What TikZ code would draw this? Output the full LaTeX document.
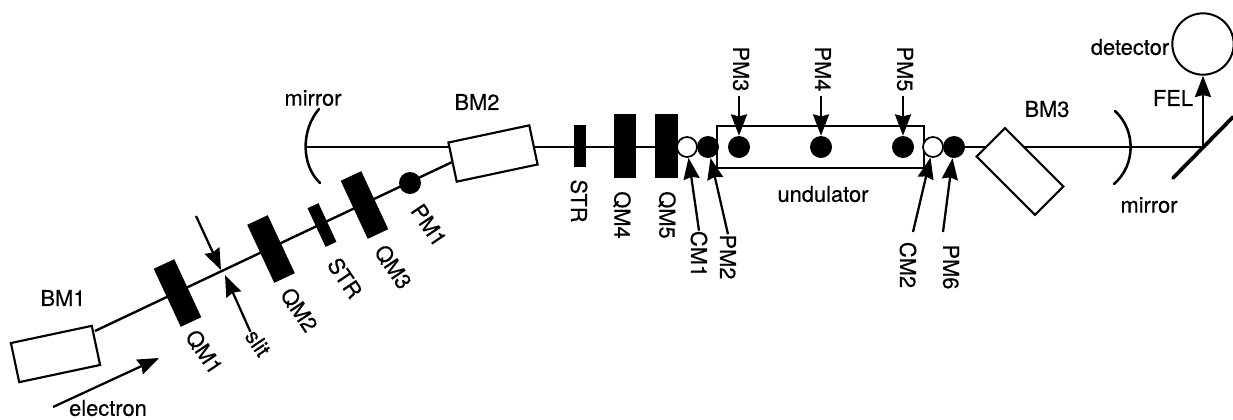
\documentclass[tikz,border=0pt]{standalone}
\usepackage{fontspec}
\setmainfont{TeX Gyre Heros}[FakeBold=0.4]
\usetikzlibrary{arrows.meta, backgrounds}

\begin{document}
\begin{tikzpicture}[
  x=0.75pt, y=-0.75pt,
  bendmag/.style={draw, fill=white, line width=1.6pt, minimum width=62pt, minimum height=30pt, inner sep=0pt},
  quad/.style={fill=black, minimum width=17pt, minimum height=48pt, inner sep=0pt},
  steer/.style={fill=black, minimum width=9pt, minimum height=32pt, inner sep=0pt},
  pmon/.style={circle, fill=black, minimum size=16.5pt, inner sep=0pt},
  cmon/.style={circle, draw, fill=white, line width=1.3pt, minimum size=15pt, inner sep=0pt},
  txt/.style={font=\fontsize{16.4}{18}\selectfont, inner sep=0pt},
  slant/.style={txt, rotate=-56},
  down/.style={txt, rotate=-90},
  beam/.style={line width=1.8pt},
  arr/.style={-{Stealth[length=16pt, width=12pt, inset=1.5pt]}, line width=1.7pt},
  mirrorline/.style={line width=1.9pt, line cap=round},
]
\useasboundingbox (0,0) rectangle (1233,419);

% first arc
\node[bendmag, rotate=12] (bm1) at (55.5,354) {};
\node[bendmag, rotate=12] (bm2) at (493,153.5) {};
\node[quad, rotate=25] (qm1) at (177.5,293) {};
\node[quad, rotate=25] (qm2) at (271,249) {};
\node[steer, rotate=25] (str1) at (322,225) {};
\node[quad, rotate=25] (qm3) at (364.5,205) {};
\node[pmon] (pm1) at (410,183) {};
\coordinate (beamstart) at (95,331);

% straight section
\node[steer] (str2) at (580,146) {};
\node[quad] (qm4) at (625,146) {};
\node[quad] (qm5) at (666.5,146) {};
\node[cmon] (cm1) at (687,147) {};
\node[pmon] (pm2) at (708,147) {};
\node[draw, line width=1.6pt, minimum width=155pt, minimum height=32pt, inner sep=0pt] (und) at (820.5,147) {};
\node[txt] (lund) at (823,194) {undulator};
\node[pmon] (pm3) at (739,147) {};
\node[pmon] (pm4) at (821,147) {};
\node[pmon] (pm5) at (903,147) {};
\node[cmon] (cm2) at (933,147) {};
\node[pmon] (pm6) at (954,147) {};
\node[bendmag, rotate=-45] (bm3) at (1020,171.5) {};

% optics
\coordinate (mirrorA) at (306,147);
\coordinate (mirrorB) at (1131,147);
\coordinate (fold) at (1203,147);
\coordinate (foldA) at (1173,178);
\coordinate (foldB) at (1233,117);
\node[circle, draw, line width=1.5pt, minimum size=46pt, inner sep=0pt] (det) at (1203,44) {};

% beam lines
\begin{scope}[on background layer]
  \draw[beam] (beamstart) -- (bm2.west);
  \draw[beam] (mirrorA) -- (cm1);
  \draw[beam] (pm6) -- (fold);
\end{scope}

\draw[mirrorline] (319,109) .. controls (301,130) and (301,165) .. (320,183);
\draw[mirrorline] (1115,111) .. controls (1136,130) and (1136,165) .. (1114,184);
\draw[line width=2.8pt, line cap=round] (foldA) -- (foldB);
\draw[arr] (fold) -- (det.south);

% labels
\node[txt] (lbm1) at (63,298) {BM1};
\node[txt] (lbm2) at (477,102) {BM2};
\node[txt] (lbm3) at (1047,109) {BM3};
\node[txt] (lmirrorA) at (313,98) {mirror};
\node[txt] (lmirrorB) at (1149,205) {mirror};
\node[txt] (lfel) at (1173,98) {FEL};
\node[txt] (ldet) at (1130,47) {detector};
\node[txt] (lelec) at (108,408) {electron};
\node[slant] (lqm1) at (204,352) {QM1};
\node[slant] (lqm2) at (299,310) {QM2};
\node[slant] (lstr1) at (345,278) {STR};
\node[slant] (lqm3) at (393,267) {QM3};
\node[slant] (lslit) at (258,343) {slit};
\node[slant] (lpm1) at (429,225) {PM1};
\node[down] (lstr2) at (579,201) {STR};
\node[down] (lqm4) at (622,215) {QM4};
\node[down] (lqm5) at (667,215) {QM5};
\node[down] (lcm1) at (699,254) {CM1};
\node[down] (lpm2) at (728,257) {PM2};
\node[down] (lpm3) at (741,69) {PM3};
\node[down] (lpm4) at (823,69) {PM4};
\node[down] (lpm5) at (905,69) {PM5};
\node[down] (lcm2) at (908,265) {CM2};
\node[down] (lpm6) at (951,267) {PM6};

% arrows
\coordinate (slitT) at (196,216);
\coordinate (slitA) at (221,270);
\coordinate (slitB) at (225,275);
\coordinate (elecT) at (53,407);
\coordinate (elecH) at (159,358);
\coordinate (tailcm2) at (913,232);
\coordinate (tailpm6) at (943,232);
\draw[arr] (slitT) -- (slitA);
\draw[arr] (lslit.west) -- (slitB);
\draw[arr] (elecT) -- (elecH);
\draw[arr] (lcm1.west) -- (cm1);
\draw[arr] (lpm2.west) -- (pm2);
\draw[arr, shorten <=3pt] (lpm3.east -| pm3) -- (pm3);
\draw[arr, shorten <=3pt] (lpm4.east -| pm4) -- (pm4);
\draw[arr, shorten <=3pt] (lpm5.east -| pm5) -- (pm5);
\draw[arr] (tailcm2) -- (cm2);
\draw[arr] (tailpm6) -- (pm6);

\end{tikzpicture}
\end{document}
